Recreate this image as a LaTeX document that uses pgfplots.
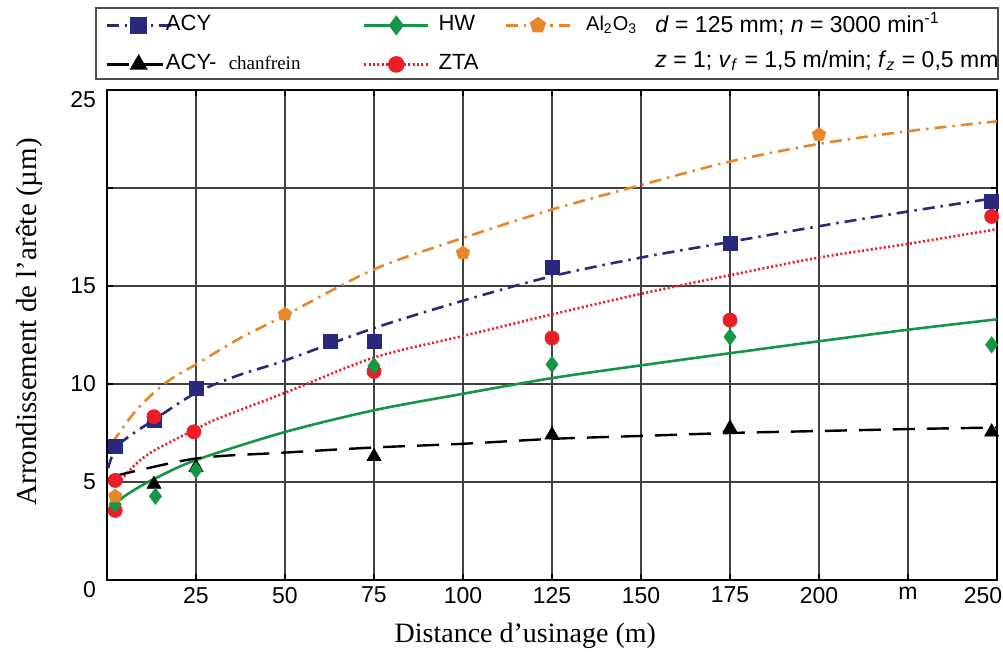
\documentclass[border=0pt]{standalone}
\usepackage{fontspec}
\setmainfont{Liberation Sans}
\newfontfamily\serif{Liberation Serif}
\usepackage{pgfplots}
\pgfplotsset{compat=1.18}
\usetikzlibrary{plotmarks}
\definecolor{acy}{RGB}{40,40,125}
\definecolor{hw}{RGB}{20,150,70}
\definecolor{zta}{RGB}{235,30,40}
\definecolor{alo}{RGB}{232,134,42}
\begin{document}
\begin{tikzpicture}
\useasboundingbox (-53.5pt,-36pt) rectangle (448pt,290pt);
\begin{axis}[
  at={(0pt,0pt)}, anchor=south west,
  scale only axis, width=445pt, height=245pt,
  xmin=0, xmax=250, ymin=0, ymax=25,
  xtick={25,50,...,250},
  xticklabels={25,50,75,100,125,150,175,200,m,\hspace*{-14pt}250},
  ytick={0,5,10,15,20,25},
  yticklabels={\raisebox{-5pt}[\height][\depth]{0},5,10,15,,\raisebox{-5pt}[\height][\depth]{25}},
  tick label style={font=\fontsize{11.5}{13}\selectfont},
  xticklabel style={yshift=0pt},
  yticklabel style={xshift=-2pt},
  grid=major,
  grid style={black!75, line width=0.7pt},
  axis line style={line width=1pt},
  major tick length=3pt,
  tick style={black, line width=0.6pt},
  xlabel={\serif Distance d’usinage (m)},
  ylabel={\serif Arrondissement de l’arête (µm)},
  xlabel style={font=\fontsize{14}{16}\selectfont, at={(axis description cs:0.47,0)}, anchor=base, yshift=-31.5pt},
  ylabel style={font=\fontsize{14.5}{16}\selectfont, at={(axis description cs:0,0.527)}, anchor=base, yshift=35pt},
  legend columns=3,
  legend cell align=left,
  legend style={at={(0,1)}, anchor=north west, xshift=-4pt, yshift=40pt,
    draw=none, fill=none, font=\fontsize{11}{13}\selectfont,
    nodes={inner sep=0pt, text height=8pt, text depth=3pt},
    row sep=8.5pt,
    /tikz/every odd column/.style={column sep=-3pt}},
  legend image code/.code={\draw[mark repeat=2,mark phase=2,#1] plot coordinates {(0pt,0pt) (16pt,0pt) (32pt,0pt)};},
]
% legend images
\addlegendimage{acy, line width=1.3pt, dash pattern=on 6pt off 3pt on 1.2pt off 3pt, mark=square*, mark size=3.5pt, mark options={solid}}
\addlegendentry{\makebox[98.5pt][l]{ACY}}
\addlegendimage{hw, line width=1.3pt, mark=diamond*, mark size=4pt, mark options={solid}}
\addlegendentry{\makebox[40.5pt][l]{\hspace{7.5pt}HW}}
\addlegendimage{alo, line width=1.3pt, dash pattern=on 6pt off 3pt on 1.2pt off 3pt, mark=pentagon*, mark size=3.5pt, mark options={solid}}
\addlegendentry{\makebox[30pt][l]{\hspace{10.5pt}{\fontsize{10}{12}\selectfont Al\textsubscript{2}O\textsubscript{3}}}}
\addlegendimage{black, line width=1.2pt, dash pattern=on 11pt off 6pt, mark=triangle*, mark size=4pt, mark options={solid}}
\addlegendentry{\makebox[98.5pt][l]{ACY-\ \ {\serif\fontsize{9.5}{11}\selectfont chanfrein}}}
\addlegendimage{zta, line width=1.3pt, dash pattern=on 1pt off 1.2pt, mark=*, mark size=3.5pt, mark options={solid}}
\addlegendentry{\makebox[40.5pt][l]{\hspace{7.5pt}ZTA}}

% fitted curves
\addplot[forget plot, smooth, acy, line width=1.3pt, dash pattern=on 6pt off 3pt on 1.2pt off 3pt] coordinates {
(0.3,5.7) (2.3,6.7) (6,7.3) (13,8.15) (25,9.55) (37,10.45) (50,11.2) (75,12.85) (100,14.25) (125,15.5) (150,16.45) (175,17.25) (200,18.05) (225,18.8) (250,19.5)};
\addplot[forget plot, smooth, alo, line width=1.3pt, dash pattern=on 6pt off 3pt on 1.2pt off 3pt] coordinates {
(1.5,7.0) (8.6,8.75) (16.8,10.1) (25,11.0) (37,12.3) (50,13.5) (75,15.85) (100,17.45) (125,18.9) (150,20.15) (175,21.35) (200,22.25) (225,22.9) (250,23.4)};
\addplot[forget plot, smooth, zta, line width=1.3pt, dash pattern=on 1pt off 1.2pt] coordinates {
(4,5.1) (8,5.9) (13.2,6.6) (25,7.7) (31.4,8.25) (50,9.55) (75,11.35) (100,12.45) (125,13.55) (150,14.6) (175,15.55) (200,16.45) (225,17.15) (250,17.9)};
\addplot[forget plot, smooth, hw, line width=1.3pt] coordinates {
(1.8,3.72) (4,4.15) (7.7,4.6) (13.2,5.15) (25,6.12) (50,7.55) (75,8.66) (100,9.5) (125,10.3) (150,10.95) (175,11.57) (200,12.18) (225,12.77) (250,13.3)};
\addplot[forget plot, smooth, black, line width=1.2pt, dash pattern=on 11pt off 6pt] coordinates {
(1.8,5.29) (25,6.2) (50,6.5) (75,6.76) (100,6.95) (125,7.2) (150,7.35) (175,7.5) (200,7.6) (225,7.7) (250,7.78)};

% measured points
\addplot[forget plot, only marks, acy, mark=square*, mark size=3.5pt] coordinates {
(2.3,6.8) (13.2,8.16) (25,9.77) (62.8,12.19) (75,12.19) (125,15.95) (175,17.15) (248.5,19.3)};
\addplot[forget plot, only marks, black, mark=triangle*, mark size=4pt] coordinates {
(13.2,4.88) (25,5.75) (75,6.3) (125,7.4) (175,7.75) (248.5,7.55)};
\addplot[forget plot, only marks, zta, mark=*, mark size=3.5pt] coordinates {
(2.3,5.08) (2.3,3.55) (13.2,8.33) (24.4,7.56) (75,10.64) (125,12.35) (175,13.26) (248.5,18.55)};
\addplot[forget plot, only marks, hw, mark=diamond*, mark size=4pt] coordinates {
(2.3,3.86) (13.6,4.27) (25,5.6) (75,10.93) (125,11.0) (175,12.4) (248.5,12.0)};
\addplot[forget plot, only marks, alo, mark=pentagon*, mark size=3.5pt] coordinates {
(2.3,4.27) (50,13.55) (100,16.68) (200,22.72)};
\end{axis}
\draw[black!70, line width=1pt] (-5.5pt,250.5pt) rectangle (445.5pt,286pt);
\node[anchor=west, align=left, inner sep=0pt, font=\fontsize{11.5}{17.5}\selectfont] at (274pt,269.25pt)
  {\textit{d} = 125 mm; \textit{n} = 3000 min\textsuperscript{-1}\\
   \textit{z} = 1; \textit{v}\textsubscript{\textit{f}} = 1,5 m/min; \textit{f}\textsubscript{\textit{z}} = 0,5 mm};
\end{tikzpicture}
\end{document}
